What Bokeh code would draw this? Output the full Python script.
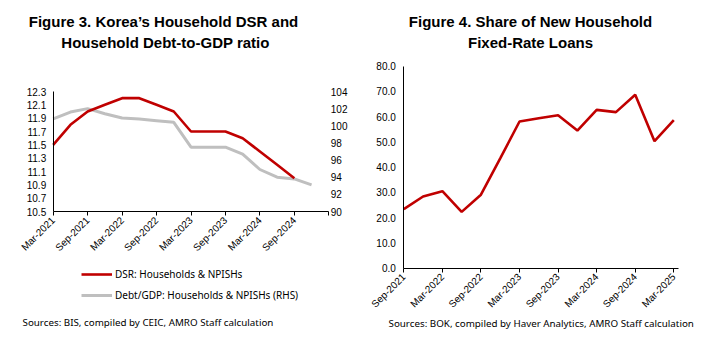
import numpy as np
from bokeh.plotting import figure
from bokeh.layouts import row
from bokeh.models import (Range1d, LinearAxis, FixedTicker, PrintfTickFormatter,
                          Label, Legend, LegendItem)
from bokeh.embed import file_html
from bokeh.resources import INLINE

# ---------------- data ----------------
# Figure 3 (quarterly, Mar-2021 onwards)
dsr_quarters = ["Mar-2021", "Jun-2021", "Sep-2021", "Dec-2021", "Mar-2022", "Jun-2022",
                "Sep-2022", "Dec-2022", "Mar-2023", "Jun-2023", "Sep-2023", "Dec-2023",
                "Mar-2024", "Jun-2024", "Sep-2024", "Dec-2024"]
dsr = [11.5, 11.8, 12.0, 12.1, 12.2, 12.2, 12.1, 12.0, 11.7, 11.7, 11.7, 11.6, 11.4, 11.2, 11.0]
debt_gdp = [100.8, 101.6, 102.0, 101.4, 100.9, 100.8, 100.6, 100.4, 97.5, 97.5, 97.5, 96.7,
            94.9, 94.0, 93.8, 93.1]
fig3_tick_labels = ["Mar-2021", "Sep-2021", "Mar-2022", "Sep-2022", "Mar-2023", "Sep-2023",
                    "Mar-2024", "Sep-2024", ""]
fig3_left_ticks = [10.5, 10.7, 10.9, 11.1, 11.3, 11.5, 11.7, 11.9, 12.1, 12.3]
fig3_right_ticks = [90, 92, 94, 96, 98, 100, 102, 104]

# Figure 4 (quarterly, Sep-2021 to Mar-2025)
fixed_quarters = ["Sep-2021", "Dec-2021", "Mar-2022", "Jun-2022", "Sep-2022", "Dec-2022",
                  "Mar-2023", "Jun-2023", "Sep-2023", "Dec-2023", "Mar-2024", "Jun-2024",
                  "Sep-2024", "Dec-2024", "Mar-2025"]
fixed_share = [23.4, 28.4, 30.5, 22.3, 29.1, 43.5, 58.1, 59.4, 60.6, 54.5, 62.7, 61.8,
               68.7, 50.3, 58.6]
fig4_tick_labels = ["Sep-2021", "Mar-2022", "Sep-2022", "Mar-2023", "Sep-2023",
                    "Mar-2024", "Sep-2024", "Mar-2025"]
fig4_y_ticks = [0, 10, 20, 30, 40, 50, 60, 70, 80]

RED = "#C00000"
GRAY = "#BFBFBF"
TICK_FONT = "Liberation Sans"
TITLE_FONT = "Liberation Sans"
NOTE_FONT = "Noto Sans"
H = 350


def span_range(v0, p0, v1, p1, total):
    """Range so that value v0 sits at pixel p0 and v1 at pixel p1 (pixels from start)."""
    k = (v1 - v0) / (p1 - p0)
    return Range1d(v0 - p0 * k, v0 + (total - p0) * k)


def style_axis(ax, ticks_visible=False):
    ax.axis_line_color = "black"
    ax.axis_line_width = 1
    ax.major_label_text_font = TICK_FONT
    ax.major_label_text_font_size = "10px"
    ax.major_label_text_color = "black"
    ax.minor_tick_line_color = None
    ax.minor_tick_out = 0
    ax.minor_tick_in = 0
    ax.major_tick_in = 0
    if ticks_visible:
        ax.major_tick_line_color = "black"
        ax.major_tick_out = 4
    else:
        ax.major_tick_line_color = None
        ax.major_tick_out = 0


def base_fig(width, xr, yr):
    p = figure(width=width, height=H, output_backend="svg", toolbar_location=None,
               x_range=xr, y_range=yr, min_border=0)
    p.grid.visible = False
    p.outline_line_color = None
    p.background_fill_color = "white"
    p.border_fill_color = "white"
    return p


def add_text(p, x, y, text, size, font, bold=False, align="center"):
    # x from the figure's left edge, y from its top edge (pixels)
    p.add_layout(Label(x=x, y=H - y, x_units="screen", y_units="screen", text=text,
                       text_font=font, text_font_size=size,
                       text_font_style="bold" if bold else "normal",
                       text_align=align, text_baseline="middle", text_color="black"))


# ---------------- Figure 3 ----------------
W1 = 360
n3 = len(fig3_tick_labels)
x_end3 = 2 * (n3 - 1)
p1 = base_fig(W1,
              span_range(0, 52.7, x_end3, 328.3, W1),
              span_range(12.3, 91, 10.5, 211, H))
# y ranges run top -> bottom in pixel terms, flip them
p1.y_range = Range1d(p1.y_range.end, p1.y_range.start)
yr_rhs = span_range(104, 91, 90, 211, H)
p1.extra_y_ranges = {"rhs": Range1d(yr_rhs.end, yr_rhs.start)}

x_dsr = list(range(len(dsr)))
x_debt = list(range(len(debt_gdp)))
r_gray = p1.line(x_debt, debt_gdp, y_range_name="rhs", line_color=GRAY, line_width=3)
r_red = p1.line(x_dsr, dsr, line_color=RED, line_width=2.6)

xa = p1.xaxis[0]
xa.ticker = FixedTicker(ticks=[2 * i for i in range(n3)])
xa.major_label_overrides = {2 * i: lab for i, lab in enumerate(fig3_tick_labels)}
xa.major_label_orientation = np.pi / 4
style_axis(xa, ticks_visible=True)
xa.major_label_standoff = 3
xa.fixed_location = fig3_left_ticks[0]
xa.bounds = (0, x_end3)

ya = p1.yaxis[0]
ya.ticker = FixedTicker(ticks=fig3_left_ticks)
ya.formatter = PrintfTickFormatter(format="%.1f")
style_axis(ya)
ya.major_label_standoff = 7
ya.fixed_location = 0
ya.bounds = (fig3_left_ticks[0], fig3_left_ticks[-1])

rax = LinearAxis(y_range_name="rhs", ticker=FixedTicker(ticks=fig3_right_ticks))
style_axis(rax)
rax.axis_line_color = None
rax.major_label_standoff = 2
rax.fixed_location = x_end3
rax.bounds = (fig3_right_ticks[0], fig3_right_ticks[-1])
p1.add_layout(rax, "right")

leg = Legend(items=[LegendItem(label="DSR: Households & NPISHs", renderers=[r_red]),
                    LegendItem(label="Debt/GDP: Households & NPISHs (RHS)", renderers=[r_gray])],
             location=(81, H - 302), orientation="vertical",
             glyph_width=31, glyph_height=14, label_height=14, spacing=7,
             label_standoff=3, padding=0, margin=0,
             border_line_color=None, background_fill_alpha=0,
             label_text_font=NOTE_FONT, label_text_font_size="10px", label_text_color="black")
p1.add_layout(leg, "center")

add_text(p1, 163, 20.5, "Figure 3. Korea\u2019s Household DSR and", "15px", TITLE_FONT, bold=True)
add_text(p1, 165, 41.5, "Household Debt-to-GDP ratio", "15px", TITLE_FONT, bold=True)
add_text(p1, 22, 322, "Sources: BIS, compiled by CEIC, AMRO Staff calculation", "9.8px",
         NOTE_FONT, align="left")

# ---------------- Figure 4 ----------------
W2 = 359
n4 = len(fixed_share)
x_end4 = n4 - 1
yr4 = span_range(80, 65.7, 0, 267.7, H)
p2 = base_fig(W2,
              span_range(0, 43.3, x_end4, 313.3, W2),
              Range1d(yr4.end, yr4.start))

x_fix = list(range(n4))
p2.line(x_fix, fixed_share, line_color=RED, line_width=2.6)

xb = p2.xaxis[0]
xb.ticker = FixedTicker(ticks=[2 * i for i in range(len(fig4_tick_labels))])
xb.major_label_overrides = {2 * i: lab for i, lab in enumerate(fig4_tick_labels)}
xb.major_label_orientation = np.pi / 4
style_axis(xb, ticks_visible=True)
xb.major_label_standoff = 3
xb.fixed_location = fig4_y_ticks[0]
xb.bounds = (0, x_end4 + 0.24)

yb = p2.yaxis[0]
yb.ticker = FixedTicker(ticks=fig4_y_ticks)
yb.formatter = PrintfTickFormatter(format="%.1f")
style_axis(yb)
yb.major_label_standoff = 8
yb.fixed_location = 0
yb.bounds = (fig4_y_ticks[0], fig4_y_ticks[-1])

add_text(p2, 170, 20.5, "Figure 4. Share of New Household", "15px", TITLE_FONT, bold=True)
add_text(p2, 170, 41.5, "Fixed-Rate Loans", "15px", TITLE_FONT, bold=True)
add_text(p2, 28, 322.5, "Sources: BOK, compiled by Haver Analytics, AMRO Staff calculation",
         "9.8px", NOTE_FONT, align="left")

layout = row(p1, p2, spacing=0)
open("out.html", "w").write(file_html(layout, INLINE))
